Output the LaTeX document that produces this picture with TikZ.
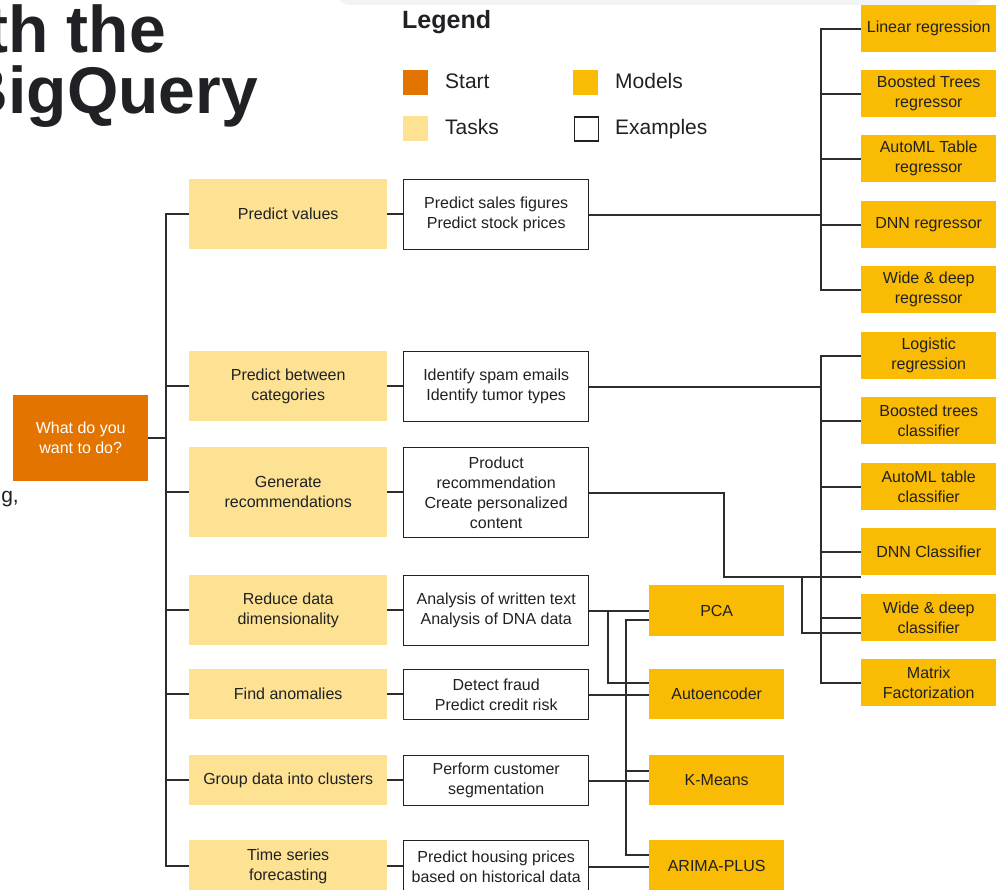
\documentclass[tikz,border=0pt]{standalone}
\usepackage{fontspec}
\setmainfont{Liberation Sans}
\usetikzlibrary{calc}
\definecolor{startc}{HTML}{E37400}
\definecolor{taskc}{HTML}{FDE293}
\definecolor{modelc}{HTML}{FABB04}
\definecolor{ink}{HTML}{202124}
\definecolor{wirec}{HTML}{2B2D30}
\definecolor{barc}{HTML}{F1F3F4}

\begin{document}
\begin{tikzpicture}[x=1pt,y=-1pt,
  basebox/.style={anchor=north west, inner sep=0pt, align=center, text=ink,
    font=\fontsize{16}{20}\selectfont},
  startbox/.style={basebox, fill=startc, text=white},
  taskbox/.style={basebox, fill=taskc, minimum width=198pt},
  exbox/.style={basebox, draw=ink, line width=1.4pt, fill=white, minimum width=185pt},
  modelbox/.style={basebox, fill=modelc, minimum width=135pt},
  wire/.style={draw=wirec, line width=1.8pt},
  legsq/.style={anchor=north west, inner sep=0pt, minimum size=25pt},
  legtext/.style={anchor=base west, inner sep=0pt, text=ink, font=\fontsize{21}{25}\selectfont},
  titletext/.style={anchor=base east, inner sep=0pt, text=ink, font=\fontsize{66}{70}\selectfont\bfseries},
]
\useasboundingbox (0,0) rectangle (1002,890);

% rounded bar along the top edge
\fill[barc, rounded corners=14pt] (336,-40) rectangle (985,5);

% heading and body text running in from the left
\node[titletext] (title1) at (166,53) {th the};
\node[titletext] (title2) at (258,114) {BigQuery};
\node[anchor=base east, inner sep=0pt, text=ink, font=\fontsize{21}{25}\selectfont] (bodytail) at (19,503) {g,};

% legend
\node[anchor=base west, inner sep=0pt, text=ink, font=\fontsize{25}{30}\selectfont\bfseries] (legtitle) at (402,29) {Legend};
\node[legsq, fill=startc] (lgstart) at (403,70) {};
\node[legtext] (lgstartt) at (445,89) {Start};
\node[legsq, fill=taskc] (lgtask) at (403,116) {};
\node[legtext] (lgtaskt) at (445,135) {Tasks};
\node[legsq, fill=modelc] (lgmodel) at (573,70) {};
\node[legtext] (lgmodelt) at (615,89) {Models};
\node[legsq, draw=ink, line width=1.5pt, minimum size=24pt] (lgex) at (573.5,116.5) {};
\node[legtext] (lgext) at (615,135) {Examples};

% start
\node[startbox, minimum width=135pt, minimum height=86pt] (start) at (13,395) {What do you\\want to do?};

% tasks
\node[taskbox, minimum height=70pt] (t1) at (189,179) {Predict values};
\node[taskbox, minimum height=70pt] (t2) at (189,351) {Predict between\\categories};
\node[taskbox, minimum height=90pt] (t3) at (189,447) {Generate\\recommendations};
\node[taskbox, minimum height=70pt] (t4) at (189,575) {Reduce data\\dimensionality};
\node[taskbox, minimum height=50pt] (t5) at (189,669) {Find anomalies};
\node[taskbox, minimum height=50pt] (t6) at (189,755) {Group data into clusters};
\node[taskbox, minimum height=52pt] (t7) at (189,840) {Time series\\forecasting};

% examples
\node[exbox, minimum height=70pt] (e1) at (403,179) {Predict sales figures\\Predict stock prices};
\node[exbox, minimum height=70pt] (e2) at (403,351) {Identify spam emails\\Identify tumor types};
\node[exbox, minimum height=90pt] (e3) at (403,447) {Product\\recommendation\\Create personalized\\content};
\node[exbox, minimum height=70pt] (e4) at (403,575) {Analysis of written text\\Analysis of DNA data};
\node[exbox, minimum height=50pt] (e5) at (403,669) {Detect fraud\\Predict credit risk};
\node[exbox, minimum height=50pt] (e6) at (403,755) {Perform customer\\segmentation};
\node[exbox, minimum height=52pt] (e7) at (403,840) {Predict housing prices\\based on historical data};

% supervised models
\node[modelbox, minimum height=47pt] (m1) at (861,5) {Linear regression};
\node[modelbox, minimum height=47pt] (m2) at (861,70) {Boosted Trees\\regressor};
\node[modelbox, minimum height=47pt] (m3) at (861,135) {AutoML Table\\regressor};
\node[modelbox, minimum height=47pt] (m4) at (861,201) {DNN regressor};
\node[modelbox, minimum height=47pt] (m5) at (861,266) {Wide \& deep\\regressor};
\node[modelbox, minimum height=47pt] (m6) at (861,332) {Logistic\\regression};
\node[modelbox, minimum height=47pt] (m7) at (861,397) {Boosted trees\\classifier};
\node[modelbox, minimum height=47pt] (m8) at (861,463) {AutoML table\\classifier};
\node[modelbox, minimum height=47pt] (m9) at (861,528) {DNN Classifier};
\node[modelbox, minimum height=47pt] (m10) at (861,594) {Wide \& deep\\classifier};
\node[modelbox, minimum height=47pt] (m11) at (861,659) {Matrix\\Factorization};

% unsupervised and time-series models
\node[modelbox, minimum height=51pt] (u1) at (649,585) {PCA};
\node[modelbox, minimum height=50pt] (u2) at (649,669) {Autoencoder};
\node[modelbox, minimum height=50pt] (u3) at (649,755) {K-Means};
\node[modelbox, minimum height=52pt] (u4) at (649,840) {ARIMA-PLUS};

% routing points
\coordinate (trunk) at (166,0);
\coordinate (rbus) at (821,0);
\coordinate (rec) at (724,577);
\coordinate (recdrop) at (802,633);
\coordinate (dimdrop) at (608,683);
\coordinate (pcatap) at (626,620);
\coordinate (kmtap) at (626,771);
\coordinate (artap) at (626,855);

% start to tasks
\draw[wire] (start.east) -- (start.east -| trunk);
\draw[wire] (t1.west) -- (t1.west -| trunk) -- (t7.west -| trunk) -- (t7.west);
\foreach \i in {2,...,6} \draw[wire] (t\i.west) -- (t\i.west -| trunk);

% tasks to examples
\foreach \i in {1,...,7} \draw[wire] (t\i.east) -- (t\i.east -| e\i.west);

% regression models
\draw[wire] (m1.west) -- (m1.west -| rbus) -- (m5.west -| rbus) -- (m5.west);
\foreach \i in {2,3,4} \draw[wire] (m\i.west) -- (m\i.west -| rbus);
\draw[wire] (e1.east) -- (e1.east -| rbus);

% classification models
\draw[wire] (m6.west) -- (m6.west -| rbus) -- (m11.west -| rbus) -- (m11.west);
\foreach \i in {7,8,9,10} \draw[wire] (m\i.west) -- (m\i.west -| rbus);
\draw[wire] (e2.east) -- (e2.east -| rbus);

% recommendations
\draw[wire] (e3.east) -| (rec) -- (rec -| m9.west);
\draw[wire] (rec -| recdrop) -- (recdrop) -- (recdrop -| m10.west);

% dimensionality, anomalies, clusters, forecasting
\draw[wire] (e4.east) -- (e4.east -| u1.west);
\draw[wire] (e4.east -| dimdrop) -- (dimdrop) -- (dimdrop -| u2.west);
\draw[wire] (e5.east) -- (e5.east -| u2.west);
\draw[wire] (pcatap -| u1.west) -- (pcatap) -- (artap) -- (artap -| u4.west);
\draw[wire] (kmtap) -- (kmtap -| u3.west);
\draw[wire] (e6.east) -- (e6.east -| u3.west);
\draw[wire] (e7.east) -- (e7.east -| u4.west);
\end{tikzpicture}
\end{document}
